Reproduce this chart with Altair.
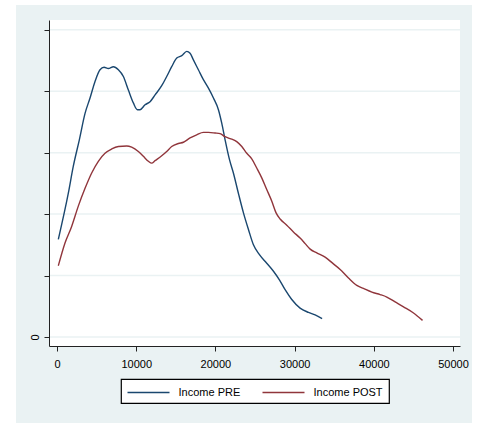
import altair as alt
import pandas as pd

# Kernel density estimates of income before and after transfers
# (density in units of 1e-5)
pre_income = [168, 1430, 2060, 2820, 3540, 4170, 4800, 5430, 5940, 6480, 7120, 7750,
              8380, 9010, 9640, 10150, 10480, 11120, 11750, 12380, 13220, 13850, 14480,
              15120, 15750, 16380, 16800, 17220, 17850, 18480, 19120, 19750, 20380,
              20800, 21220, 21770, 22270, 22900, 23540, 24170, 24800, 25560, 26480,
              27330, 28080, 28800, 29640, 30690, 31750, 32590, 33470]
pre_density = [1.59, 2.34, 2.78, 3.21, 3.64, 3.89, 4.16, 4.35, 4.39, 4.37, 4.40, 4.35,
               4.24, 4.02, 3.81, 3.70, 3.70, 3.78, 3.83, 3.94, 4.09, 4.24, 4.40,
               4.54, 4.58, 4.65, 4.62, 4.51, 4.35, 4.19, 4.05, 3.89, 3.70,
               3.48, 3.21, 2.89, 2.67, 2.34, 2.02, 1.75, 1.50, 1.34, 1.20,
               1.07, 0.93, 0.77, 0.61, 0.47, 0.40, 0.36, 0.30]

post_income = [168, 1010, 1850, 2690, 3540, 4380, 5220, 6060, 6910, 7750, 8800, 9430,
               10270, 10910, 11540, 11960, 12380, 13220, 13850, 14480, 15330, 15960,
               16800, 17640, 18480, 19120, 19960, 20590, 21220, 21850, 22690, 23330,
               23960, 24590, 25220, 25850, 26480, 27120, 27660, 28170, 29010, 29850,
               30690, 31330, 31960, 32800, 33850, 34900, 35750, 36800, 37850, 38690,
               39750, 40800, 41640, 42690, 43750, 45010, 46150]
post_density = [1.16, 1.53, 1.80, 2.13, 2.42, 2.67, 2.86, 2.99, 3.06, 3.10, 3.11, 3.09,
                3.02, 2.94, 2.86, 2.83, 2.87, 2.95, 3.02, 3.10, 3.15, 3.17,
                3.24, 3.29, 3.33, 3.33, 3.32, 3.31, 3.26, 3.23, 3.18, 3.10,
                2.99, 2.90, 2.75, 2.59, 2.40, 2.21, 2.02, 1.92, 1.82, 1.71,
                1.61, 1.52, 1.43, 1.37, 1.30, 1.19, 1.10, 0.96, 0.84, 0.79,
                0.73, 0.69, 0.65, 0.57, 0.49, 0.39, 0.27]

series_names = ["Income PRE", "Income POST"]
series_colors = ["#1A476F", "#90353B"]
x_ticks = [0, 10000, 20000, 30000, 40000, 50000]
y_ticks = [0, 1, 2, 3, 4, 5]

W, H = 411, 326
BG = "#EAF2F3"
FONT = "Liberation Sans"
FS = 11

df = pd.concat([
    pd.DataFrame({"income": pre_income, "density": pre_density,
                  "series": series_names[0], "idx": range(len(pre_income))}),
    pd.DataFrame({"income": post_income, "density": post_density,
                  "series": series_names[1], "idx": range(len(post_income))}),
])

xscale = alt.Scale(domain=[-1010, 50880], nice=False, zero=False)
yscale = alt.Scale(domain=[-0.147, 5.16], nice=False, zero=False)

x_axis = alt.Axis(values=x_ticks, format="d", title=None, grid=False,
                  tickSize=5, tickColor="#222", domainColor="#222",
                  labelFont=FONT, labelFontSize=FS, labelColor="black",
                  labelPadding=7, labelFlush=False, labelOverlap=False,
                  zindex=1)
y_axis = alt.Axis(values=y_ticks, title=None, grid=False,
                  labelExpr="datum.value == 0 ? '0' : ''",
                  labelAngle=270, tickSize=5, tickColor="#222",
                  domainColor="#222", labelFont=FONT, labelFontSize=FS,
                  labelColor="black", labelPadding=4, labelOverlap=False,
                  zindex=1)

# Outer graph region (light tint) and white plot region
outer = alt.Chart(alt.Data(values=[{}])).mark_rect(color=BG, clip=False).encode(
    x=alt.value(-33), x2=alt.value(423), y=alt.value(-15), y2=alt.value(403)
)
inner = alt.Chart(alt.Data(values=[{}])).mark_rect(color="white").encode(
    x=alt.value(0), x2=alt.value(W), y=alt.value(0), y2=alt.value(H)
)

grid = alt.Chart(pd.DataFrame({"density": y_ticks})).mark_rule(
    color=BG, strokeWidth=1.5
).encode(y=alt.Y("density:Q", scale=yscale, axis=y_axis))

lines = alt.Chart(df).mark_line(strokeWidth=1.4, interpolate="monotone").encode(
    x=alt.X("income:Q", scale=xscale, axis=x_axis),
    y=alt.Y("density:Q", scale=yscale, axis=y_axis),
    color=alt.Color("series:N",
                    scale=alt.Scale(domain=series_names, range=series_colors),
                    legend=alt.Legend(title=None, orient="none", legendX=72,
                                      legendY=359, direction="horizontal",
                                      symbolType="M-1,0H5", symbolSize=196,
                                      symbolStrokeWidth=1.4, labelOffset=36,
                                      labelFont=FONT, labelFontSize=FS,
                                      labelColor="black", padding=5.5,
                                      columnPadding=19, strokeColor="black",
                                      fillColor="white")),
    order="idx:Q",
)

chart = alt.layer(outer, inner, grid, lines).properties(
    width=W, height=H,
    autosize=alt.AutoSizeParams(type="none"),
    padding={"left": 49, "top": 20, "right": 19, "bottom": 77},
).configure(background="white").configure_view(stroke=None).configure_legend(
    strokeWidth=1.2
)

chart.save("out.html", embed_options={"renderer": "svg", "actions": False})
